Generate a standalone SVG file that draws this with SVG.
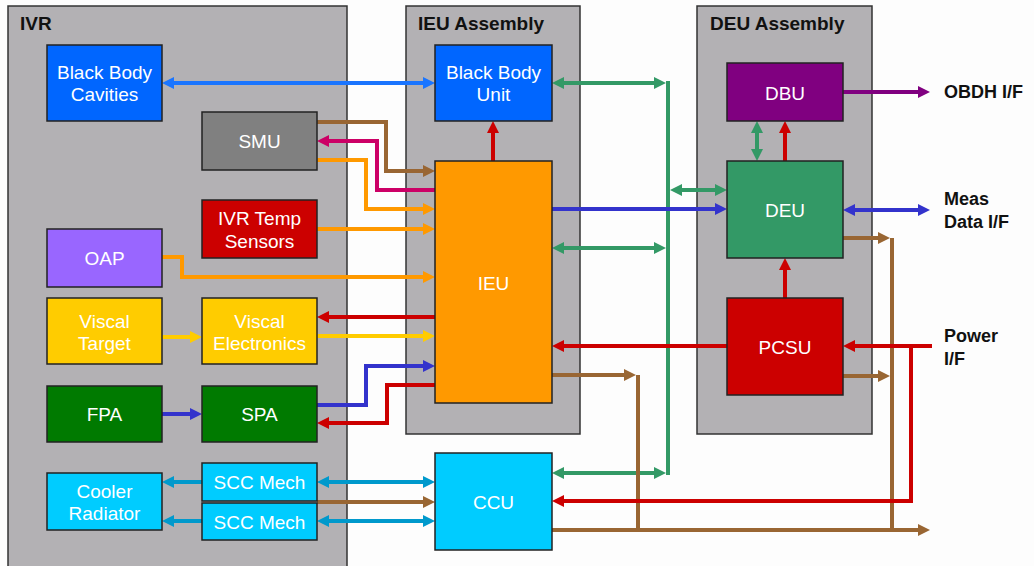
<svg xmlns="http://www.w3.org/2000/svg" width="1034" height="566" viewBox="0 0 1034 566">
<style>
.bg{fill:#fdfdfd}
.cont{fill:#b3b1b4;stroke:#333;stroke-width:1.5}
.node{stroke:#222;stroke-width:1.5}
.ct{font-family:"Liberation Sans",Arial,sans-serif;font-weight:bold;font-size:19px;fill:#111}
.nt{font-family:"Liberation Sans",Arial,sans-serif;font-size:19px;fill:#fff;text-anchor:middle}
.lt{font-family:"Liberation Sans",Arial,sans-serif;font-weight:bold;font-size:18px;fill:#111}
.c{fill:none;stroke-width:4;stroke-linejoin:miter}
</style>
<defs>
<marker id="m-b1" viewBox="0 0 12 12" markerUnits="userSpaceOnUse" markerWidth="12" markerHeight="12" refX="2" refY="6" orient="auto-start-reverse"><path d="M0,0 L12,6 L0,12 z" fill="#1a75ff"/></marker>
<marker id="m-g" viewBox="0 0 12 12" markerUnits="userSpaceOnUse" markerWidth="12" markerHeight="12" refX="2" refY="6" orient="auto-start-reverse"><path d="M0,0 L12,6 L0,12 z" fill="#339966"/></marker>
<marker id="m-r" viewBox="0 0 12 12" markerUnits="userSpaceOnUse" markerWidth="12" markerHeight="12" refX="2" refY="6" orient="auto-start-reverse"><path d="M0,0 L12,6 L0,12 z" fill="#cc0000"/></marker>
<marker id="m-p" viewBox="0 0 12 12" markerUnits="userSpaceOnUse" markerWidth="12" markerHeight="12" refX="2" refY="6" orient="auto-start-reverse"><path d="M0,0 L12,6 L0,12 z" fill="#800080"/></marker>
<marker id="m-b2" viewBox="0 0 12 12" markerUnits="userSpaceOnUse" markerWidth="12" markerHeight="12" refX="2" refY="6" orient="auto-start-reverse"><path d="M0,0 L12,6 L0,12 z" fill="#3333cc"/></marker>
<marker id="m-br" viewBox="0 0 12 12" markerUnits="userSpaceOnUse" markerWidth="12" markerHeight="12" refX="2" refY="6" orient="auto-start-reverse"><path d="M0,0 L12,6 L0,12 z" fill="#996633"/></marker>
<marker id="m-m" viewBox="0 0 12 12" markerUnits="userSpaceOnUse" markerWidth="12" markerHeight="12" refX="2" refY="6" orient="auto-start-reverse"><path d="M0,0 L12,6 L0,12 z" fill="#cc0066"/></marker>
<marker id="m-o" viewBox="0 0 12 12" markerUnits="userSpaceOnUse" markerWidth="12" markerHeight="12" refX="2" refY="6" orient="auto-start-reverse"><path d="M0,0 L12,6 L0,12 z" fill="#ff9900"/></marker>
<marker id="m-y" viewBox="0 0 12 12" markerUnits="userSpaceOnUse" markerWidth="12" markerHeight="12" refX="2" refY="6" orient="auto-start-reverse"><path d="M0,0 L12,6 L0,12 z" fill="#ffcc00"/></marker>
<marker id="m-lb" viewBox="0 0 12 12" markerUnits="userSpaceOnUse" markerWidth="12" markerHeight="12" refX="2" refY="6" orient="auto-start-reverse"><path d="M0,0 L12,6 L0,12 z" fill="#0099cc"/></marker>
</defs>
<rect class="bg" x="0" y="0" width="1034" height="566"/>

<g id="ivr"><rect class="cont" x="8" y="6" width="339" height="575"/><text class="ct" x="20" y="30">IVR</text></g>
<g id="ieu-assembly"><rect class="cont" x="406" y="6" width="174" height="428"/><text class="ct" x="418" y="30">IEU Assembly</text></g>
<g id="deu-assembly"><rect class="cont" x="697" y="6" width="175" height="428"/><text class="ct" x="710" y="30">DEU Assembly</text></g>

<g id="connectors">
<path class="c" stroke="#1a75ff" d="M172,83 H425" marker-start="url(#m-b1)" marker-end="url(#m-b1)"/>
<path class="c" stroke="#339966" d="M668,81 V475"/>
<path class="c" stroke="#339966" d="M562,83 H656" marker-start="url(#m-g)" marker-end="url(#m-g)"/>
<path class="c" stroke="#339966" d="M680,190 H717" marker-start="url(#m-g)" marker-end="url(#m-g)"/>
<path class="c" stroke="#339966" d="M562,248 H656" marker-start="url(#m-g)" marker-end="url(#m-g)"/>
<path class="c" stroke="#339966" d="M562,473 H656" marker-start="url(#m-g)" marker-end="url(#m-g)"/>
<path class="c" stroke="#339966" d="M757,131 V151" marker-start="url(#m-g)" marker-end="url(#m-g)"/>
<path class="c" stroke="#cc0000" d="M493,161 V131" marker-end="url(#m-r)"/>
<path class="c" stroke="#cc0000" d="M785,161 V131" marker-end="url(#m-r)"/>
<path class="c" stroke="#cc0000" d="M785,298 V268" marker-end="url(#m-r)"/>
<path class="c" stroke="#800080" stroke-width="3.5" d="M843,92 H920" marker-end="url(#m-p)"/>
<path class="c" stroke="#3333cc" d="M552,209 H717" marker-end="url(#m-b2)"/>
<path class="c" stroke="#3333cc" d="M853,210 H920" marker-start="url(#m-b2)" marker-end="url(#m-b2)"/>
<path class="c" stroke="#996633" d="M892,238 V530"/>
<path class="c" stroke="#996633" d="M843,238 H880" marker-end="url(#m-br)"/>
<path class="c" stroke="#996633" d="M843,376 H880" marker-end="url(#m-br)"/>
<path class="c" stroke="#996633" d="M638,375 V530"/>
<path class="c" stroke="#996633" d="M552,375 H626" marker-end="url(#m-br)"/>
<path class="c" stroke="#996633" d="M552,530 H920" marker-end="url(#m-br)"/>
<path class="c" stroke="#cc0000" d="M932,346 H853" marker-end="url(#m-r)"/>
<path class="c" stroke="#cc0000" d="M911,346 V501 H562" marker-end="url(#m-r)"/>
<path class="c" stroke="#cc0000" d="M727,346 H562" marker-end="url(#m-r)"/>
<path class="c" stroke="#996633" d="M317,122 H386 V171 H425" marker-end="url(#m-br)"/>
<path class="c" stroke="#cc0066" d="M435,190 H377 V141 H327" marker-end="url(#m-m)"/>
<path class="c" stroke="#ff9900" d="M317,160 H366 V209 H425" marker-end="url(#m-o)"/>
<path class="c" stroke="#ff9900" d="M317,229 H425" marker-end="url(#m-o)"/>
<path class="c" stroke="#ff9900" d="M162,257 H182 V277 H425" marker-end="url(#m-o)"/>
<path class="c" stroke="#cc0000" d="M435,317 H327" marker-end="url(#m-r)"/>
<path class="c" stroke="#ffcc00" d="M317,336 H425" marker-end="url(#m-y)"/>
<path class="c" stroke="#ffcc00" d="M162,337 H192" marker-end="url(#m-y)"/>
<path class="c" stroke="#3333cc" d="M162,414 H192" marker-end="url(#m-b2)"/>
<path class="c" stroke="#3333cc" d="M317,405 H366 V366 H425" marker-end="url(#m-b2)"/>
<path class="c" stroke="#cc0000" d="M435,385 H387 V423 H327" marker-end="url(#m-r)"/>
<path class="c" stroke="#0099cc" stroke-width="3.5" d="M327,482 H425" marker-start="url(#m-lb)" marker-end="url(#m-lb)"/>
<path class="c" stroke="#996633" d="M317,502 H425" marker-end="url(#m-br)"/>
<path class="c" stroke="#0099cc" stroke-width="3.5" d="M327,521 H425" marker-start="url(#m-lb)" marker-end="url(#m-lb)"/>
<path class="c" stroke="#0099cc" stroke-width="3.5" d="M202,482 H172" marker-end="url(#m-lb)"/>
<path class="c" stroke="#0099cc" stroke-width="3.5" d="M202,521 H172" marker-end="url(#m-lb)"/>
</g>

<g id="black-body-cavities"><rect class="node" x="47" y="45" width="115" height="76" fill="#0066ff"/><text class="nt" x="104.5" y="79">Black Body</text><text class="nt" x="104.5" y="101">Cavities</text></g>
<g id="smu"><rect class="node" x="202" y="112" width="115" height="58" fill="#808080"/><text class="nt" x="259.5" y="148">SMU</text></g>
<g id="ivr-temp-sensors"><rect class="node" x="202" y="200" width="115" height="58" fill="#cc0000"/><text class="nt" x="259.5" y="225">IVR Temp</text><text class="nt" x="259.5" y="248">Sensors</text></g>
<g id="oap"><rect class="node" x="47" y="229" width="115" height="58" fill="#9966ff"/><text class="nt" x="104.5" y="265">OAP</text></g>
<g id="viscal-target"><rect class="node" x="47" y="298" width="115" height="66" fill="#ffcc00"/><text class="nt" x="104.5" y="328">Viscal</text><text class="nt" x="104.5" y="350">Target</text></g>
<g id="viscal-electronics"><rect class="node" x="202" y="298" width="115" height="66" fill="#ffcc00"/><text class="nt" x="259.5" y="328">Viscal</text><text class="nt" x="259.5" y="350">Electronics</text></g>
<g id="fpa"><rect class="node" x="47" y="386" width="115" height="56" fill="#007a00"/><text class="nt" x="104.5" y="421">FPA</text></g>
<g id="spa"><rect class="node" x="202" y="386" width="115" height="56" fill="#007a00"/><text class="nt" x="259.5" y="421">SPA</text></g>
<g id="cooler-radiator"><rect class="node" x="47" y="473" width="115" height="57" fill="#00ccff"/><text class="nt" x="104.5" y="498">Cooler</text><text class="nt" x="104.5" y="520">Radiator</text></g>
<g id="scc-mech-1"><rect class="node" x="202" y="463" width="115" height="38" fill="#00ccff"/><text class="nt" x="259.5" y="489">SCC Mech</text></g>
<g id="scc-mech-2"><rect class="node" x="202" y="503" width="115" height="37" fill="#00ccff"/><text class="nt" x="259.5" y="529">SCC Mech</text></g>
<g id="black-body-unit"><rect class="node" x="435" y="45" width="117" height="76" fill="#0066ff"/><text class="nt" x="493.5" y="79">Black Body</text><text class="nt" x="493.5" y="101">Unit</text></g>
<g id="ieu"><rect class="node" x="435" y="161" width="117" height="242" fill="#ff9900"/><text class="nt" x="493.5" y="290">IEU</text></g>
<g id="ccu"><rect class="node" x="435" y="453" width="117" height="97" fill="#00ccff"/><text class="nt" x="493.5" y="509">CCU</text></g>
<g id="dbu"><rect class="node" x="727" y="63" width="116" height="58" fill="#800080"/><text class="nt" x="785" y="100">DBU</text></g>
<g id="deu"><rect class="node" x="727" y="161" width="116" height="97" fill="#339966"/><text class="nt" x="785" y="217">DEU</text></g>
<g id="pcsu"><rect class="node" x="727" y="298" width="116" height="97" fill="#cc0000"/><text class="nt" x="785" y="354">PCSU</text></g>

<g id="obdh-if"><text class="lt" x="944" y="98">OBDH I/F</text></g>
<g id="meas-data-if"><text class="lt" x="944" y="205">Meas</text><text class="lt" x="944" y="228">Data I/F</text></g>
<g id="power-if"><text class="lt" x="944" y="342">Power</text><text class="lt" x="944" y="365">I/F</text></g>
</svg>
